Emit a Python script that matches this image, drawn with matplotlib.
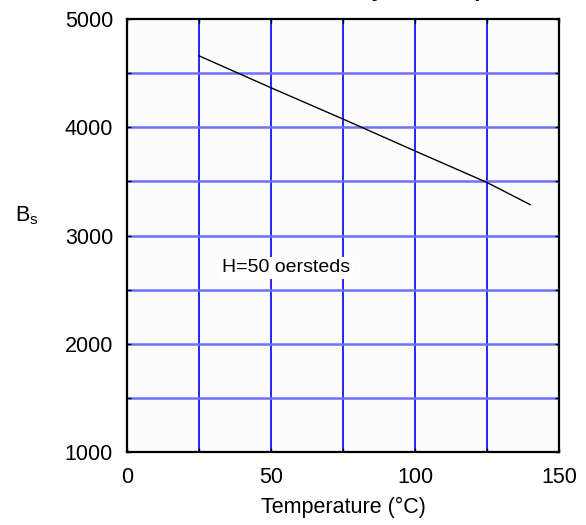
import matplotlib
matplotlib.use("Agg")
import matplotlib.pyplot as plt
from matplotlib.ticker import MultipleLocator

plt.rcParams['font.family'] = ['Liberation Sans', 'DejaVu Sans']

# readings (H = 50 oersteds)
temperature = [25, 50, 75, 100, 125, 140]
bs = [4660, 4365, 4076, 3781, 3490, 3285]

x_ticks = [0, 50, 100, 150]
y_ticks = [1000, 2000, 3000, 4000, 5000]
title = "Saturation Flux Density vs. Temperature"
note = "H=50 oersteds"

fig = plt.figure(figsize=(5.86, 5.25), dpi=100)
ax = fig.add_axes([0.2167, 0.139, 0.7372, 0.8248])
ax.set_facecolor("#fcfcfc")

ax.set_xlim(0, 150)
ax.set_ylim(1000, 5000)
ax.set_xticks(x_ticks)
ax.set_yticks(y_ticks)
ax.xaxis.set_minor_locator(MultipleLocator(25))
ax.yaxis.set_minor_locator(MultipleLocator(500))

# grid: thin bright blue verticals, wider pale blue horizontals
for xv in range(25, 150, 25):
    ax.axvline(xv, color="#0000ff", lw=1.2, zorder=1)
for yv in range(1500, 5000, 500):
    ax.axhline(yv, color="#6f6fff", lw=1.8, zorder=1)

ax.plot(temperature, bs, color="black", lw=1.0, zorder=3)

ax.text(33, 2700, note, fontsize=14, ha="left", va="center", zorder=4,
        bbox=dict(facecolor="white", edgecolor="none", pad=2))

for s in ax.spines.values():
    s.set_linewidth(1.6)
ax.tick_params(which="both", direction="in", top=True, right=True,
               labelsize=15.5, length=3, width=1)
ax.tick_params(axis="x", pad=11)
ax.tick_params(axis="y", pad=10)

ax.set_xlabel("Temperature (\u00b0C)", fontsize=15.5, labelpad=6)
fig.text(0.025, 0.59, r"B$_\mathregular{s}$", fontsize=15.5, ha="left", va="center")

# title sits mostly above the top edge, as in the reference
fig.text(0.592, 1.008, title, fontsize=16.5, fontweight="bold",
         ha="center", va="baseline")

fig.savefig("out.png", dpi=100)
